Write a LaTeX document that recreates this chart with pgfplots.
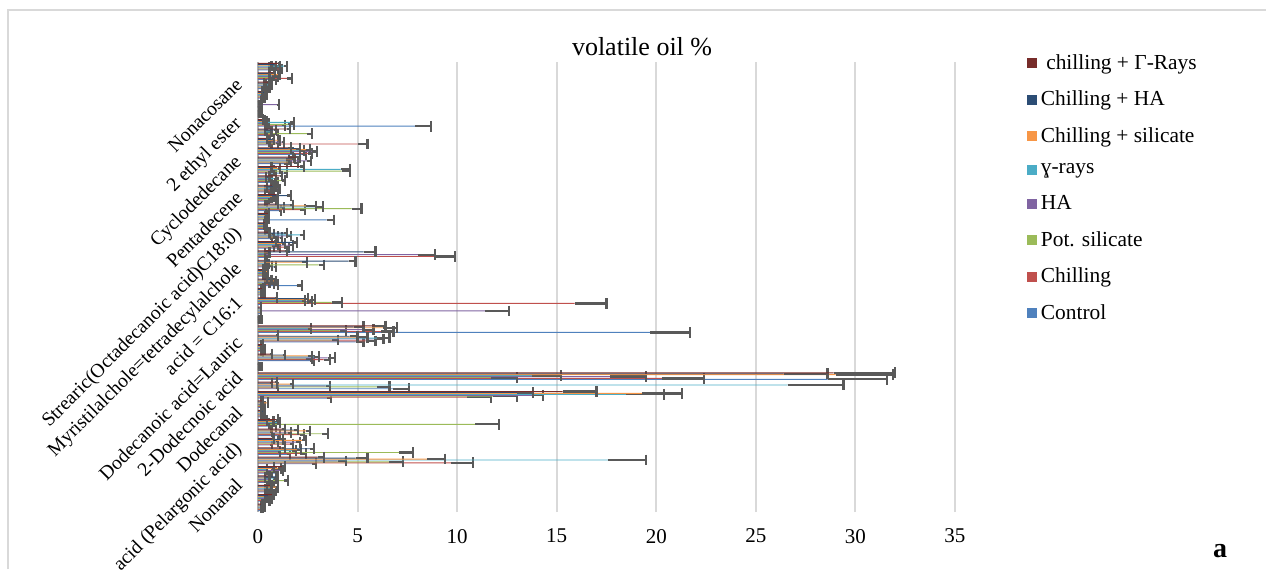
\documentclass[border=0pt]{standalone}
\usepackage{pgfplots}
\usepackage{pgfplotstable}
\pgfplotsset{compat=1.18}
\usepackage{fontspec}
\setmainfont{Liberation Serif}
\definecolor{cC}{HTML}{4F81BD}
\definecolor{cCh}{HTML}{C0504D}
\definecolor{cPS}{HTML}{9BBB59}
\definecolor{cHA}{HTML}{8064A2}
\definecolor{cG}{HTML}{4BACC6}
\definecolor{cChS}{HTML}{F79646}
\definecolor{cChHA}{HTML}{2C4D75}
\definecolor{cChG}{HTML}{772C2A}
\definecolor{errc}{HTML}{595959}
\definecolor{gridc}{HTML}{D9D9D9}

\pgfplotstableread{
y c0 c1 c2 c3 c4 c5 c6 c7 e0 e1 e2 e3 e4 e5 e6 e7
0 0.10 0.15 0.20 0.10 0.30 0.10 0.20 0.15 0.05 0.05 0.05 0.05 0.05 0.05 0.05 0.05
1 0.30 0.50 0.20 0.60 0.40 0.30 0.50 0.70 0.05 0.08 0.05 0.10 0.06 0.05 0.08 0.10
2 0.50 0.80 0.40 0.30 0.60 0.90 0.40 0.60 0.08 0.10 0.06 0.05 0.10 0.12 0.06 0.08
3 0.70 0.40 1.30 0.50 0.80 0.30 0.90 0.50 0.10 0.06 0.20 0.08 0.12 0.05 0.12 0.08
4 0.90 0.60 0.80 1.10 0.40 1.00 0.70 1.20 0.12 0.10 0.10 0.15 0.06 0.15 0.10 0.15
5 2.70 9.70 6.60 4.00 17.60 8.50 4.90 3.00 0.20 1.10 0.70 0.40 1.90 0.90 0.60 0.30
6 1.45 2.20 7.07 1.00 1.70 1.95 2.60 1.20 0.15 0.20 0.73 0.10 0.20 0.20 0.20 0.15
7 0.60 1.60 1.20 1.90 0.90 2.20 1.10 0.70 0.10 0.15 0.15 0.20 0.10 0.20 0.15 0.10
8 1.00 2.10 3.20 1.50 0.60 2.40 1.80 1.20 0.12 0.20 0.30 0.15 0.10 0.20 0.20 0.15
9 0.80 0.60 10.90 0.50 1.00 0.70 0.40 0.90 0.10 0.08 1.20 0.06 0.12 0.08 0.06 0.10
10 0.20 0.10 0.30 0.15 0.20 0.10 0.25 0.10 0.05 0.05 0.05 0.05 0.05 0.05 0.05 0.05
11 0.10 0.30 0.20 0.10 0.15 0.45 0.10 0.20 0.05 0.05 0.05 0.05 0.05 0.05 0.05 0.05
12 3.46 10.50 11.80 13.75 18.50 19.30 13.00 15.30 0.20 1.20 1.20 0.55 1.90 2.00 0.80 1.70
13 6.80 0.90 6.00 3.40 26.60 1.60 0.60 0.85 0.80 0.10 0.60 0.20 2.80 0.15 0.10 0.10
14 28.60 20.30 11.70 17.70 13.75 29.00 26.40 28.90 3.00 2.10 1.30 1.80 1.45 2.90 2.20 3.10
15 0 0 0 0 0 0 0 0 0 0 0 0 0 0 0 0
16 2.60 3.30 2.40 3.50 2.80 2.50 1.25 0.60 0.20 0.30 0.30 0.35 0.25 0.20 0.10 0.10
17 0.20 0.10 0.30 0.10 0.20 0.15 0.10 0.20 0.05 0.05 0.05 0.05 0.05 0.05 0.05 0.05
18 4.90 5.40 3.70 5.80 6.00 5.00 4.60 0.90 0.40 0.50 0.30 0.50 0.60 0.50 0.40 0.10
19 19.70 6.20 4.10 5.30 2.50 6.30 4.80 5.90 2.00 0.60 0.30 0.50 0.15 0.70 0.50 0.50
20 0 0 0 0 0 0 0 0 0 0 0 0 0 0 0 0
21 0.10 0.10 0.10 11.40 0.10 0.10 0.10 0.10 0.05 0.05 0.05 1.20 0.05 0.05 0.05 0.05
22 0.10 15.90 3.70 2.50 2.20 2.60 2.30 0.87 0.05 1.60 0.50 0.20 0.15 0.25 0.20 0.10
23 0.20 0.30 0.10 0.20 0.15 0.30 0.10 0.20 0.05 0.05 0.05 0.05 0.05 0.05 0.05 0.05
24 1.95 0.90 0.70 0.50 0.30 0.80 0.60 0.40 0.25 0.10 0.10 0.08 0.05 0.10 0.08 0.06
25 0.30 0.40 0.20 0.35 0.25 0.45 0.30 0.20 0.05 0.05 0.05 0.05 0.05 0.05 0.05 0.05
26 0.80 0.60 3.05 0.50 0.40 2.20 4.55 0.30 0.10 0.10 0.27 0.06 0.05 0.25 0.35 0.05
27 0.30 8.85 0.40 8.05 0.30 0.50 5.30 1.35 0.05 1.05 0.06 0.85 0.05 0.08 0.60 0.10
28 1.00 1.40 0.70 1.60 0.90 1.20 1.75 0.80 0.12 0.15 0.10 0.15 0.10 0.15 0.20 0.10
29 0.60 1.10 0.90 1.50 2.10 0.70 1.30 0.50 0.10 0.12 0.10 0.15 0.20 0.10 0.15 0.08
30 0.30 0.40 0.35 0.30 0.40 0.25 0.30 0.35 0.05 0.05 0.05 0.05 0.05 0.05 0.05 0.05
31 3.45 0.50 0.40 0.45 0.30 0.40 0.35 0.50 0.35 0.06 0.05 0.06 0.05 0.05 0.05 0.06
32 1.05 2.10 4.70 1.20 2.95 2.40 1.60 0.90 0.10 0.25 0.50 0.10 0.30 0.50 0.15 0.10
33 0.40 0.30 0.80 0.50 0.60 0.70 1.45 0.90 0.06 0.05 0.10 0.06 0.08 0.10 0.20 0.10
34 0.50 0.90 0.30 1.00 0.60 0.40 0.80 0.70 0.08 0.10 0.05 0.12 0.08 0.06 0.10 0.10
35 0.90 0.40 1.20 0.60 0.80 0.35 0.50 1.10 0.10 0.06 0.15 0.08 0.10 0.05 0.08 0.12
36 1.30 0.80 4.20 0.70 4.15 1.00 0.60 2.10 0.15 0.10 0.40 0.10 0.45 0.12 0.08 0.20
37 1.30 1.80 1.50 2.45 1.40 1.70 1.60 1.90 0.15 0.20 0.15 0.20 0.15 0.15 0.20 0.20
38 2.20 2.50 1.60 2.70 2.10 2.40 1.90 1.50 0.20 0.20 0.15 0.25 0.20 0.20 0.20 0.15
39 0.60 5.00 0.90 1.20 0.50 1.00 0.70 0.40 0.08 0.50 0.10 0.12 0.08 0.12 0.10 0.06
40 0.50 0.90 2.46 0.40 0.60 0.30 0.80 1.45 0.08 0.10 0.25 0.06 0.08 0.05 0.10 0.15
41 7.90 1.20 1.50 0.50 1.60 0.40 0.30 0.20 0.80 0.15 0.30 0.06 0.20 0.06 0.05 0.05
42 0 0 0 0 0 0 0 0 0 0 0 0 0 0 0 0
43 0 0 0 0.95 0 0 0 0 0 0 0 0.10 0 0 0 0
44 0.20 0.30 0.10 0.25 0.40 0.20 0.30 0.15 0.05 0.05 0.05 0.05 0.05 0.05 0.05 0.05
45 0.40 0.50 0.30 0.45 0.60 0.35 0.25 0.50 0.06 0.08 0.05 0.06 0.08 0.05 0.05 0.08
46 0.80 1.45 0.60 0.90 0.70 1.00 0.50 0.75 0.10 0.25 0.08 0.10 0.10 0.12 0.08 0.10
47 0.90 1.10 0.70 0.50 1.30 0.60 0.80 1.00 0.10 0.12 0.10 0.08 0.15 0.08 0.10 0.12
}\data

\begin{document}
\begin{tikzpicture}
\path[use as bounding box] (0pt,0pt) rectangle (633pt,284.5pt);
\draw[gray!30, line width=0.7pt] (4pt,0pt) -- (4pt,279.5pt) -- (633pt,279.5pt);
\begin{axis}[
  at={(129pt,28.5pt)}, anchor=south west,
  scale only axis, width=348.5pt, height=225pt,
  xmin=0, xmax=35, ymin=-0.5, ymax=47.5,
  xtick={0,5,...,35},
  ytick={4.78,8.51,12.46,16.19,19.93,24.19,27.71,31.45,35.39,39.13,43.18,47.45},
  yticklabels={Nonanal, acid (Pelargonic acid), Dodecanal, 2-Dodecnoic acid, Dodecanoic acid=Lauric, acid = C16:1, Myristilalchole=tetradecylalchole, Strearic(Octadecanoic acid)C18:0), Pentadecene, Cyclodedecane, 2 ethyl ester, Nonacosane},
  major tick length=0pt,
  xmajorgrids, grid style={gridc, line width=1pt},
  axis x line*=bottom, axis y line*=left,
  x axis line style={draw=none},
  y axis line style={-, draw=gray!60, line width=0.8pt},
  /pgf/number format/assume math mode=true,
  xticklabel style={yshift=-5pt, font=\fontsize{10.5}{12}\selectfont},
  yticklabel style={rotate=45, anchor=east, xshift=-10pt, font=\fontsize{9.8}{11}\selectfont},
  title={volatile oil \%},
  title style={at={(0.551,1)}, anchor=south, yshift=-6.5pt, font=\fontsize{13}{15}\selectfont},
  xbar, bar width=0.1,
  error bars/error bar style={line width=1.1pt, color=errc},
  error bars/error mark options={rotate=90, line width=1.1pt, color=errc, mark size=2.7pt},
  reverse legend,
  legend cell align=left,
  legend style={at={(1.094,1.036)}, anchor=north west, draw=none, fill=none,
    font=\fontsize{10.7}{12}\selectfont, row sep=5.35pt},
  legend image code/.code={\fill[#1, draw=none] (0pt,-2.5pt) rectangle (5pt,2.5pt);},
]
\addplot[xbar, bar shift=-0.35, fill=cC, draw=none, error bars/.cd, x dir=plus, x explicit] table[x=c0, y=y, x error=e0] {\data};
\addplot[xbar, bar shift=-0.25, fill=cCh, draw=none, error bars/.cd, x dir=plus, x explicit] table[x=c1, y=y, x error=e1] {\data};
\addplot[xbar, bar shift=-0.15, fill=cPS, draw=none, error bars/.cd, x dir=plus, x explicit] table[x=c2, y=y, x error=e2] {\data};
\addplot[xbar, bar shift=-0.05, fill=cHA, draw=none, error bars/.cd, x dir=plus, x explicit] table[x=c3, y=y, x error=e3] {\data};
\addplot[xbar, bar shift=0.05, fill=cG, draw=none, error bars/.cd, x dir=plus, x explicit] table[x=c4, y=y, x error=e4] {\data};
\addplot[xbar, bar shift=0.15, fill=cChS, draw=none, error bars/.cd, x dir=plus, x explicit] table[x=c5, y=y, x error=e5] {\data};
\addplot[xbar, bar shift=0.25, fill=cChHA, draw=none, error bars/.cd, x dir=plus, x explicit] table[x=c6, y=y, x error=e6] {\data};
\addplot[xbar, bar shift=0.35, fill=cChG, draw=none, error bars/.cd, x dir=plus, x explicit] table[x=c7, y=y, x error=e7] {\data};
\legend{Control, Chilling, Pot. silicate, HA, ɣ-rays, Chilling + silicate, Chilling + HA, {\ chilling + Γ-Rays}}
\end{axis}
\node[font=\bfseries\fontsize{14}{16}\selectfont] at (610pt,9pt) {a};
\end{tikzpicture}
\end{document}
